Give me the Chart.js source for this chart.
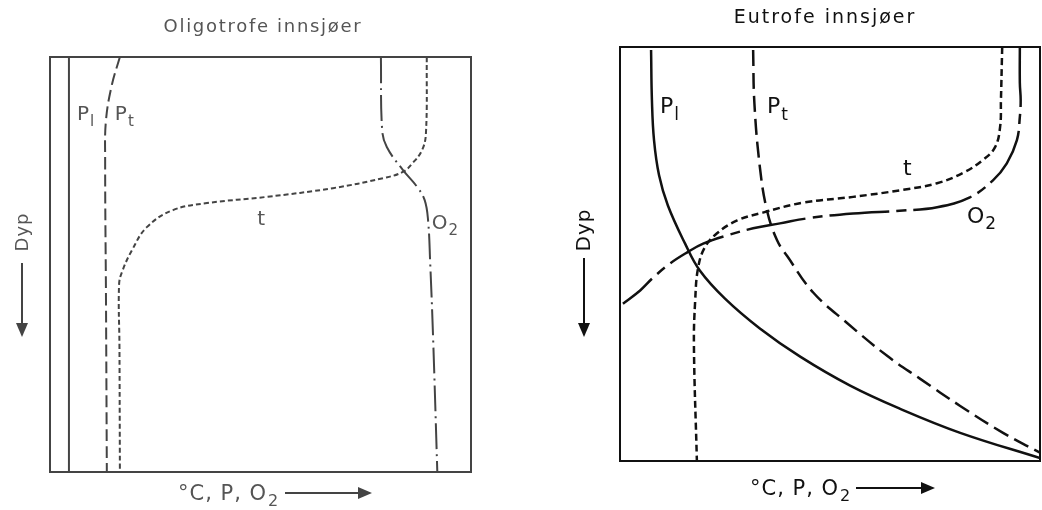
<!DOCTYPE html>
<html lang="no">
<head>
<meta charset="UTF-8">
<script src="https://cdn.jsdelivr.net/npm/chart.js"></script>
<title>Oligotrofe og eutrofe innsjøer</title>
<style>
  body { margin: 0; background: #fff; }
  .panel { position: absolute; top: 0; }
</style>
</head>
<body>
  <canvas id="oligo" class="panel" width="520" height="510" style="left:0"></canvas>
  <canvas id="eutro" class="panel" width="522" height="510" style="left:520px"></canvas>

<script>
// Verdiene: x = konsentrasjon (0-100), y = dyp (0 = overflate, 100 = bunn)
const serier = ["Pl", "Pt", "t", "O2"]

const oligoPl = [{x:4.5,y:0},{x:4.5,y:100}]
const oligoPt = [{x:16.6,y:0},{x:14.7,y:6.7},{x:13.3,y:15.2},{x:13.1,y:24.8},{x:13.3,y:58.6},{x:13.5,y:100}]
const oligoT = [{x:89.5,y:0},{x:89.3,y:18.3},{x:88.4,y:22.4},{x:86.2,y:25.5},{x:83.8,y:27.7},{x:79.1,y:29.2},
  {x:67.2,y:31.6},{x:51.5,y:33.7},{x:37.3,y:35.2},{x:29.2,y:36.9},{x:23,y:41},{x:19.5,y:46.5},
  {x:17.1,y:51.8},{x:16.4,y:54.9},{x:16.5,y:70},{x:16.6,y:100}]
const oligoO2 = [{x:78.6,y:0},{x:78.9,y:17.6},{x:80,y:21.7},{x:83.8,y:27.2},{x:87.2,y:31.3},{x:89,y:34.5},
  {x:89.8,y:39.3},{x:90.3,y:49.4},{x:91,y:67.7},{x:92,y:100}]

const eutroPl = [{x:7.4,y:0.7},{x:7.6,y:12.8},{x:8.1,y:22.5},{x:9.3,y:31},{x:11.4,y:38.3},{x:15.5,y:47.5},
  {x:19,y:54},{x:25,y:60.8},{x:33.3,y:68},{x:42.9,y:74.8},{x:54.8,y:81.8},{x:66.7,y:87.4},
  {x:81,y:93.2},{x:100,y:99.3}]
const eutroPt = [{x:31.7,y:0.7},{x:32,y:13.6},{x:33.3,y:29},{x:35,y:39.5},{x:37.4,y:46.7},
  {x:39.8,y:50.5},{x:46,y:59.3},{x:54,y:66.6},{x:63.6,y:74.6},{x:71.4,y:80.1},{x:81,y:86.7},
  {x:91.2,y:93.2},{x:100,y:98}]
const eutroT = [{x:91,y:0},{x:90.7,y:12.8},{x:90.5,y:19.3},{x:89.3,y:24.2},{x:86.4,y:27.3},{x:81.7,y:30.4},
  {x:75.5,y:32.9},{x:67.4,y:34.5},{x:55.5,y:36.2},{x:43.6,y:37.6},{x:34,y:40},{x:27.9,y:41.9},
  {x:23.1,y:45},{x:20.2,y:48.4},{x:18.6,y:53.3},{x:17.9,y:61.3},{x:17.6,y:72},{x:18.3,y:99.8}]
const eutroO2 = [{x:95.2,y:0},{x:95.2,y:8.7},{x:95.4,y:12.8},{x:95.2,y:16.9},{x:94.5,y:22.5},{x:92.1,y:28.1},
  {x:88.8,y:32.2},{x:83.3,y:36.3},{x:75.5,y:38.7},{x:67.4,y:39.5},{x:55.5,y:40.2},{x:45.2,y:41.3},
  {x:38.1,y:42.6},{x:31.7,y:43.8},{x:25.5,y:45.5},{x:19.8,y:47.5},{x:16,y:49.6},{x:11.9,y:52.3},
  {x:7.9,y:55.7},{x:4.8,y:58.8},{x:0.7,y:62}]

// etiketter: [grunntekst, senket tekst, x, y (grunnlinje)]
const oligoEtiketter = [["P","l",6.4,15.2],["P","t",15.4,15.2],["t","",49.2,40.5],["O","2",90.7,41.4]]
const eutroEtiketter = [["P","l",9.5,16],["P","t",35,16],["t","",67.4,31],["O","2",82.6,42.4]]

const FONT = "'DejaVu Sans', sans-serif"

// tekst med senket skrift
function senket(c, base, sub, x, y, size, sperr) {
  c.letterSpacing = (sperr || 0) + "px"
  c.font = size + "px " + FONT
  const wb = c.measureText(base).width
  c.textAlign = "left"
  c.textBaseline = "alphabetic"
  c.fillText(base, x, y)
  if (sub) {
    c.font = Math.round(size * 0.75) + "px " + FONT
    c.fillText(sub, x + wb + 1, y + size * 0.3)
  }
  c.letterSpacing = "0px"
}

function pil(c, x1, y1, x2, y2, farge) {
  c.strokeStyle = farge
  c.fillStyle = farge
  c.lineWidth = 2
  const ang = Math.atan2(y2 - y1, x2 - x1)
  const len = 14
  c.beginPath()
  c.moveTo(x1, y1)
  c.lineTo(x2 - Math.cos(ang) * len, y2 - Math.sin(ang) * len)
  c.stroke()
  c.beginPath()
  c.moveTo(x2, y2)
  c.lineTo(x2 - Math.cos(ang) * len - Math.sin(ang) * 6, y2 - Math.sin(ang) * len + Math.cos(ang) * 6)
  c.lineTo(x2 - Math.cos(ang) * len + Math.sin(ang) * 6, y2 - Math.sin(ang) * len - Math.cos(ang) * 6)
  c.closePath()
  c.fill()
}

// ramme, titler, aksetekster og etiketter
const rammePlugin = {
  id: "ramme",
  afterDraw(chart) {
    const o = chart.options.plugins.ramme
    const c = chart.ctx
    const a = chart.chartArea
    const sx = chart.scales.x, sy = chart.scales.y
    c.save()
    c.strokeStyle = o.farge
    c.lineWidth = o.ramme
    c.strokeRect(a.left, a.top, a.right - a.left, a.bottom - a.top)

    c.fillStyle = o.tekstfarge
    c.font = o.tittelStr + "px " + FONT
    c.letterSpacing = o.sperring + "px"
    c.textAlign = "center"
    c.textBaseline = "middle"
    c.fillText(o.tittel, o.tittelX, o.tittelY)
    c.letterSpacing = "0px"

    // Dyp
    c.save()
    c.translate(o.dypX, o.dypY)
    c.rotate(-Math.PI / 2)
    c.font = o.dypStr + "px " + FONT
    c.letterSpacing = "1px"
    c.textAlign = "center"
    c.textBaseline = "middle"
    c.fillText("Dyp", 0, 0)
    c.restore()
    pil(c, o.dypX - 1, o.pilY[0], o.dypX - 1, o.pilY[1], o.farge)

    // x-akse
    c.fillStyle = o.tekstfarge
    senket(c, "°C, P, O", "2", o.xtekst[0], o.xtekst[1], 21, 1)
    pil(c, o.xpil[0], o.xtekst[1] - 7, o.xpil[1], o.xtekst[1] - 7, o.farge)

    c.fillStyle = o.tekstfarge
    o.etiketter.forEach(e => {
      senket(c, e[0], e[1], sx.getPixelForValue(e[2]), sy.getPixelForValue(e[3]), o.etikettStr, 0)
    })
    c.restore()
  }
}

function lagDatasett(data, farge, bredde, strek) {
  return data.map((d, i) => ({
    label: serier[i],
    data: d,
    showLine: true,
    pointRadius: 0,
    borderColor: farge,
    borderWidth: bredde,
    borderDash: strek[i],
    tension: 0.4,
    fill: false
  }))
}

function lagGraf(id, datasett, padding, ramme) {
  return new Chart(document.getElementById(id), {
    type: "scatter",
    data: { datasets: datasett },
    options: {
      responsive: false,
      animation: false,
      devicePixelRatio: 1,
      layout: { padding: padding },
      scales: {
        x: { type: "linear", min: 0, max: 100, display: false },
        y: { type: "linear", min: 0, max: 100, reverse: true, display: false }
      },
      plugins: { legend: { display: false }, tooltip: { enabled: false }, ramme: ramme }
    },
    plugins: [rammePlugin]
  })
}

lagGraf("oligo",
  lagDatasett([oligoPl, oligoPt, oligoT, oligoO2], "#444", 2,
    [[], [12, 5], [5, 3], [26, 5, 2, 5]]),
  { left: 50, top: 57, right: 49, bottom: 38 },
  { farge: "#444", tekstfarge: "#555", ramme: 2, tittel: "Oligotrofe innsjøer", tittelStr: 18, sperring: 1.7,
    tittelX: 263, tittelY: 27, dypX: 23, dypY: 232, dypStr: 18, pilY: [263, 337],
    xtekst: [178, 500], xpil: [285, 372], etikettStr: 20, etiketter: oligoEtiketter })

lagGraf("eutro",
  lagDatasett([eutroPl, eutroPt, eutroT, eutroO2], "#111", 2.5,
    [[], [16, 7], [7, 4], [60, 7, 10, 7]]),
  { left: 100, top: 47, right: 2, bottom: 49 },
  { farge: "#111", tekstfarge: "#111", ramme: 2, tittel: "Eutrofe innsjøer", tittelStr: 19, sperring: 2,
    tittelX: 305, tittelY: 18, dypX: 65, dypY: 230, dypStr: 20, pilY: [258, 337],
    xtekst: [230, 495], xpil: [336, 415], etikettStr: 22, etiketter: eutroEtiketter })
</script>
</body>
</html>
